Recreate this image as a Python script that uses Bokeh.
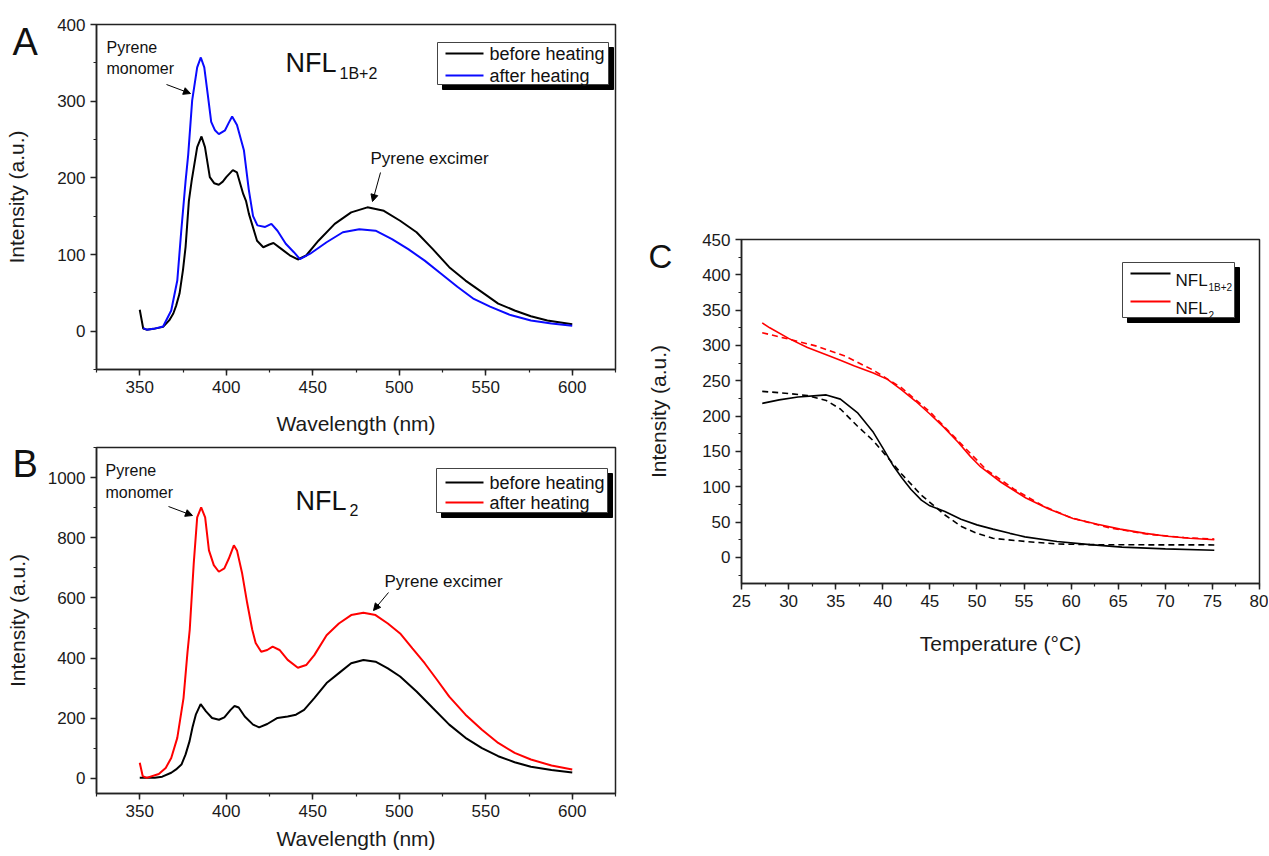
from bokeh.plotting import figure
from bokeh.layouts import row, column
from bokeh.models import Range1d, SingleIntervalTicker, Label, Arrow, NormalHead, BoxAnnotation, Spacer
from bokeh.embed import file_html
from bokeh.resources import INLINE

FONT = "Liberation Sans"

# ---------------- data ----------------
# Panel A: NFL1B+2
a_before_wl = [350, 352, 354, 358, 363.5, 367, 369.4, 371, 373, 375, 376.5, 378.4, 380, 383.2, 385.7, 387.7,
               390.5, 393, 395.7, 398, 400, 403.8, 406.2, 409.8, 411.4, 413.1, 417.8, 421.4, 424.9, 427.3, 432,
               436.7, 441.4, 446.2, 453.3, 462.7, 472.2, 481.6, 491.1, 500.5, 510, 519.4, 528.9, 538.3, 547.8,
               557.2, 566.7, 576.1, 585.6, 600]
a_before_int = [28, 3.5, 2, 3, 5.6, 14, 23, 33, 49, 80, 110, 170, 196, 240, 254, 240,
                201, 193, 191, 195, 201, 210, 207, 179, 170, 153, 118, 109.5, 113, 115, 107,
                99, 93.5, 98.7, 118, 140, 155, 161.5, 157, 144, 129, 107, 83.5, 66, 51,
                36, 27, 19.5, 14, 9]
a_after_wl = [352, 354, 358, 363.5, 368.2, 371.7, 374, 376.5, 378, 380.3, 383.2, 385.3, 387.3, 389.3, 391.3,
              393.5, 395.7, 399.3, 401.5, 403.4, 406.2, 410.2, 413, 415.5, 418, 422.5, 426.1, 429.6, 434.4,
              439.1, 442.6, 448.5, 458, 467.4, 476.9, 486.3, 495.8, 505.2, 514.7, 524.2, 533.6, 543.1, 552.5,
              564.3, 576.1, 588, 600]
a_after_int = [4, 2, 3, 6, 27, 66, 131, 196, 230, 301, 344, 357, 344, 309, 273,
               262, 257, 262, 272, 280, 269, 236, 185, 150, 138, 136, 140, 131, 114,
               103, 94, 101, 116, 129, 133, 131, 120, 107, 92, 75, 58, 42, 32,
               21, 14, 10, 7]

# Panel B: NFL2
b_before_wl = [350, 358.7, 363, 368.2, 371, 374.1, 376.5, 378.8, 380.5, 382.4, 385.2, 388.3, 391.8, 395.8,
               398.9, 402.5, 404.8, 407.2, 410.7, 415.5, 419, 423.7, 429.6, 435.5, 440.3, 445, 450.9, 458,
               465.1, 472.2, 479.3, 486.3, 493.4, 500.5, 510, 519.4, 528.9, 538.3, 547.8, 557.2, 566.7,
               576.1, 588, 600]
b_before_int = [2, 2, 6, 19, 30, 46, 80, 124, 170, 212, 247, 223, 201, 195,
                203, 228, 241, 236, 206, 179, 170, 181, 201, 206, 212, 228, 267, 317,
                350, 383, 394, 388, 366, 339, 289, 234, 179, 135, 101, 74, 54,
                39, 28, 20]
b_after_wl = [350, 351.7, 354, 361, 365, 368.2, 371.7, 375.3, 377.6, 378.9, 381.2, 383.2, 385.5, 387.8, 390,
              392.8, 395.7, 398.9, 401.5, 404.4, 406.2, 409.2, 412.1, 415, 417, 420.2, 423.7, 426.8, 430.8,
              435.5, 441.4, 446.2, 450.9, 458, 465.1, 472.2, 479.3, 486.3, 493.4, 500.5, 507.6, 514.7, 521.8,
              528.9, 538.3, 547.8, 557.2, 566.7, 576.1, 588, 600]
b_after_int = [52, 8, 2, 15, 35, 68, 135, 267, 420, 495, 714, 868, 901, 868, 758,
               709, 687, 698, 731, 775, 758, 681, 583, 495, 450, 421, 427, 438, 427,
               394, 368, 377, 410, 476, 515, 543, 551, 543, 515, 482, 432, 383, 328,
               272, 212, 162, 118, 85, 63, 43, 30]

# Panel C: intensity vs temperature
c_t_1b2 = [27.2, 29, 31, 33, 34, 35.5, 37.3, 39, 40, 41.1, 42, 43, 44.1, 45, 46.6, 48.3, 50, 51.7, 53.5,
           55.1, 58.5, 62, 65.4, 70, 75.2]
c_1b2 = [218, 223, 227, 229, 230, 224, 205, 177, 155, 130, 113, 96, 81, 73, 65, 54, 46, 40, 34,
         29, 22.5, 18, 14.5, 12, 10]
c_t_1b2_fit = [27.2, 30, 32, 34, 35.5, 37.3, 39, 40.8, 42, 44.1, 46.6, 48.3, 50, 51.7, 55.1, 58.5, 62, 66,
               70, 75.2]
c_1b2_fit = [235, 232, 229, 222, 210, 186, 165, 137, 118, 88, 60, 44, 34, 27, 22.5, 19, 18, 17.8,
             17.7, 17.6]
c_t_2 = [27.2, 28, 30, 32, 34, 35.5, 37, 39, 40.5, 42, 43.5, 45, 46.5, 48, 49.3, 50.4, 52.6, 55.2, 57.7,
         60.2, 62.8, 65.2, 67.9, 70.2, 72.6, 75.2]
c_2 = [332, 325, 310, 297, 287, 279, 271, 261, 252, 237, 221, 203, 184, 163, 143, 128, 106, 84, 68,
       55, 47, 40, 34, 30, 27, 25]
c_t_2_fit = [27.2, 30, 33, 36, 39, 42, 45, 48, 51, 54, 57, 60, 64, 68, 72, 75.2]
c_2_fit = [318, 309, 299, 285, 265, 240, 206, 165, 124, 96, 73, 56, 42, 33, 28, 26]

legend_ab = ["before heating", "after heating"]


# ---------------- helpers ----------------
class Frame:
    """Maps page pixel positions (for annotations) into data units of a panel."""
    def __init__(self, L, R, T, B, xr, yr, page_left, page_top, height):
        self.L, self.R, self.T, self.B, self.xr, self.yr = L, R, T, B, xr, yr
        self.pl, self.pt, self.h = page_left, page_top, height

    def x(self, px):
        return self.xr[0] + (px - self.L) / (self.R - self.L) * (self.xr[1] - self.xr[0])

    def y(self, py):
        return self.yr[1] - (py - self.T) / (self.B - self.T) * (self.yr[1] - self.yr[0])


def make_fig(fr, width, xint, yint, xlabel, ylabel, xstand, ystand):
    page_left, page_top, height = fr.pl, fr.pt, fr.h
    p = figure(width=width, height=height, x_range=Range1d(*fr.xr), y_range=Range1d(*fr.yr),
               output_backend="svg", toolbar_location=None,
               min_border_left=fr.L - page_left, min_border_right=page_left + width - fr.R,
               min_border_top=fr.T - page_top, min_border_bottom=page_top + height - fr.B)
    p.xaxis.ticker = SingleIntervalTicker(interval=xint, num_minor_ticks=2)
    p.yaxis.ticker = SingleIntervalTicker(interval=yint, num_minor_ticks=2)
    p.xgrid.visible = False
    p.ygrid.visible = False
    p.outline_line_color = "#222222"
    p.outline_line_width = 1.5
    p.outline_line_alpha = 1
    p.xaxis.axis_label = xlabel
    p.yaxis.axis_label = ylabel
    p.xaxis.axis_label_standoff = xstand
    p.yaxis.axis_label_standoff = ystand
    for ax in p.axis:
        ax.axis_line_color = "#222222"
        ax.axis_line_width = 1.5
        ax.major_tick_in = 0
        ax.major_tick_out = 6
        ax.minor_tick_in = 0
        ax.minor_tick_out = 3
        ax.major_tick_line_color = "#222222"
        ax.minor_tick_line_color = "#222222"
        ax.major_tick_line_width = 1.5
        ax.minor_tick_line_width = 1.2
        ax.major_label_text_font = FONT
        ax.major_label_text_font_size = "17px"
        ax.major_label_text_color = "#1a1a1a"
        ax.major_label_standoff = 5
        ax.axis_label_text_font = FONT
        ax.axis_label_text_font_size = "21px"
        ax.axis_label_text_font_style = "normal"
        ax.axis_label_text_color = "#1a1a1a"
    return p


def text(p, fr, px, py, s, size, baseline="alphabetic", align="left"):
    p.add_layout(Label(x=fr.x(px), y=fr.y(py), text=s, text_font=FONT, text_font_size=f"{size}px",
                       text_align=align, text_baseline=baseline, text_color="#111111", level="overlay"))


def big_letter(p, fr, px, pbottom, s, size):
    # panel letter drawn as the figure title, pulled down to the left of the y axis
    p.title.text = s
    p.title.align = "left"
    p.title.vertical_align = "bottom"
    p.title.offset = px - fr.L
    p.title.standoff = -2 * (pbottom - fr.T)
    p.title.text_font = FONT
    p.title.text_font_size = f"{size}px"
    p.title.text_font_style = "normal"
    p.title.text_color = "#111111"


def arrow(p, fr, x0, y0, x1, y1):
    p.add_layout(Arrow(end=NormalHead(size=7, fill_color="black", line_color="black", line_width=1),
                       x_start=fr.x(x0), y_start=fr.y(y0), x_end=fr.x(x1), y_end=fr.y(y1),
                       line_color="black", line_width=1))


def legend_box(p, fr, l, r, t, b, off=5):
    p.add_layout(BoxAnnotation(left=fr.x(l + off), right=fr.x(r + off), top=fr.y(t + off), bottom=fr.y(b + off),
                               fill_color="black", fill_alpha=1, line_color="black", line_alpha=1,
                               level="annotation"))
    p.add_layout(BoxAnnotation(left=fr.x(l), right=fr.x(r), top=fr.y(t), bottom=fr.y(b),
                               fill_color="white", fill_alpha=1, line_color="#444444", line_alpha=1,
                               line_width=1, level="annotation"))


def legend_line(p, fr, x0, x1, y, color):
    p.segment(x0=[fr.x(x0)], y0=[fr.y(y)], x1=[fr.x(x1)], y1=[fr.y(y)], line_color=color,
              line_width=2, level="overlay")


# ---------------- panel A ----------------
fa = Frame(96, 615, 24, 369, (325, 625), (-50, 400), 0, 0, 438)
pA = make_fig(fa, 640, 50, 100, "Wavelength (nm)", "Intensity (a.u.)", 16, 26)
pA.line(a_before_wl, a_before_int, line_color="black", line_width=2)
pA.line(a_after_wl, a_after_int, line_color="#0a0aff", line_width=2)
big_letter(pA, fa, 12, 62, "A", 38)
text(pA, fa, 285, 62, "NFL", 27)
text(pA, fa, 339, 73, "1B+2", 16)
legend_box(pA, fa, 437, 608, 42, 84)
legend_line(pA, fa, 445, 483, 53, "black")
legend_line(pA, fa, 445, 483, 75, "#0a0aff")
text(pA, fa, 489, 53, legend_ab[0], 18, baseline="middle")
text(pA, fa, 489, 75, legend_ab[1], 18, baseline="middle")
text(pA, fa, 106, 47, "Pyrene", 16, baseline="middle")
text(pA, fa, 106, 68, "monomer", 16, baseline="middle")
arrow(pA, fa, 166, 84, 190, 93)
text(pA, fa, 370, 158, "Pyrene excimer", 17, baseline="middle")
arrow(pA, fa, 380, 172, 372, 201)

# ---------------- panel B ----------------
fb = Frame(96, 615, 447, 793, (325, 625), (-50, 1100), 0, 438, 417)
pB = make_fig(fb, 640, 50, 200, "Wavelength (nm)", "Intensity (a.u.)", 7, 16)
pB.line(b_before_wl, b_before_int, line_color="black", line_width=2)
pB.line(b_after_wl, b_after_int, line_color="#ff0000", line_width=2)
big_letter(pB, fb, 12, 484, "B", 38)
text(pB, fb, 295, 500, "NFL", 27)
text(pB, fb, 349, 509, "2", 16)
legend_box(pB, fb, 436, 607, 468, 512)
legend_line(pB, fb, 445, 483, 482, "black")
legend_line(pB, fb, 445, 483, 502, "#ff0000")
text(pB, fb, 489, 482, legend_ab[0], 18, baseline="middle")
text(pB, fb, 489, 502, legend_ab[1], 18, baseline="middle")
text(pB, fb, 105, 470, "Pyrene", 16, baseline="middle")
text(pB, fb, 105, 492, "monomer", 16, baseline="middle")
arrow(pB, fb, 168, 506, 192, 515)
text(pB, fb, 384, 581, "Pyrene excimer", 17, baseline="middle")
arrow(pB, fb, 388, 592, 373, 610)

# ---------------- panel C ----------------
fc = Frame(741, 1259, 239, 583, (25, 80), (-37, 450), 640, 200, 460)
pC = make_fig(fc, 628, 5, 50, "Temperature (\u00b0C)", "Intensity (a.u.)", 22, 29)
pC.line(c_t_2, c_2, line_color="#ff0000", line_width=1.6)
pC.line(c_t_2_fit, c_2_fit, line_color="#ff0000", line_width=1.6, line_dash="6 4")
pC.line(c_t_1b2, c_1b2, line_color="black", line_width=1.6)
pC.line(c_t_1b2_fit, c_1b2_fit, line_color="black", line_width=1.6, line_dash="6 4")
big_letter(pC, fc, 648, 274, "C", 33)
legend_box(pC, fc, 1122, 1234, 262, 317)
legend_line(pC, fc, 1130, 1170, 273, "black")
legend_line(pC, fc, 1130, 1170, 301, "#ff0000")
text(pC, fc, 1175, 280, "NFL", 17)
text(pC, fc, 1208, 287, "1B+2", 10)
text(pC, fc, 1175, 308, "NFL", 17)
text(pC, fc, 1208, 314, "2", 10)

layout = row(column(pA, pB), column(Spacer(width=628, height=200), pC))

open("out.html", "w").write(file_html(layout, INLINE))
